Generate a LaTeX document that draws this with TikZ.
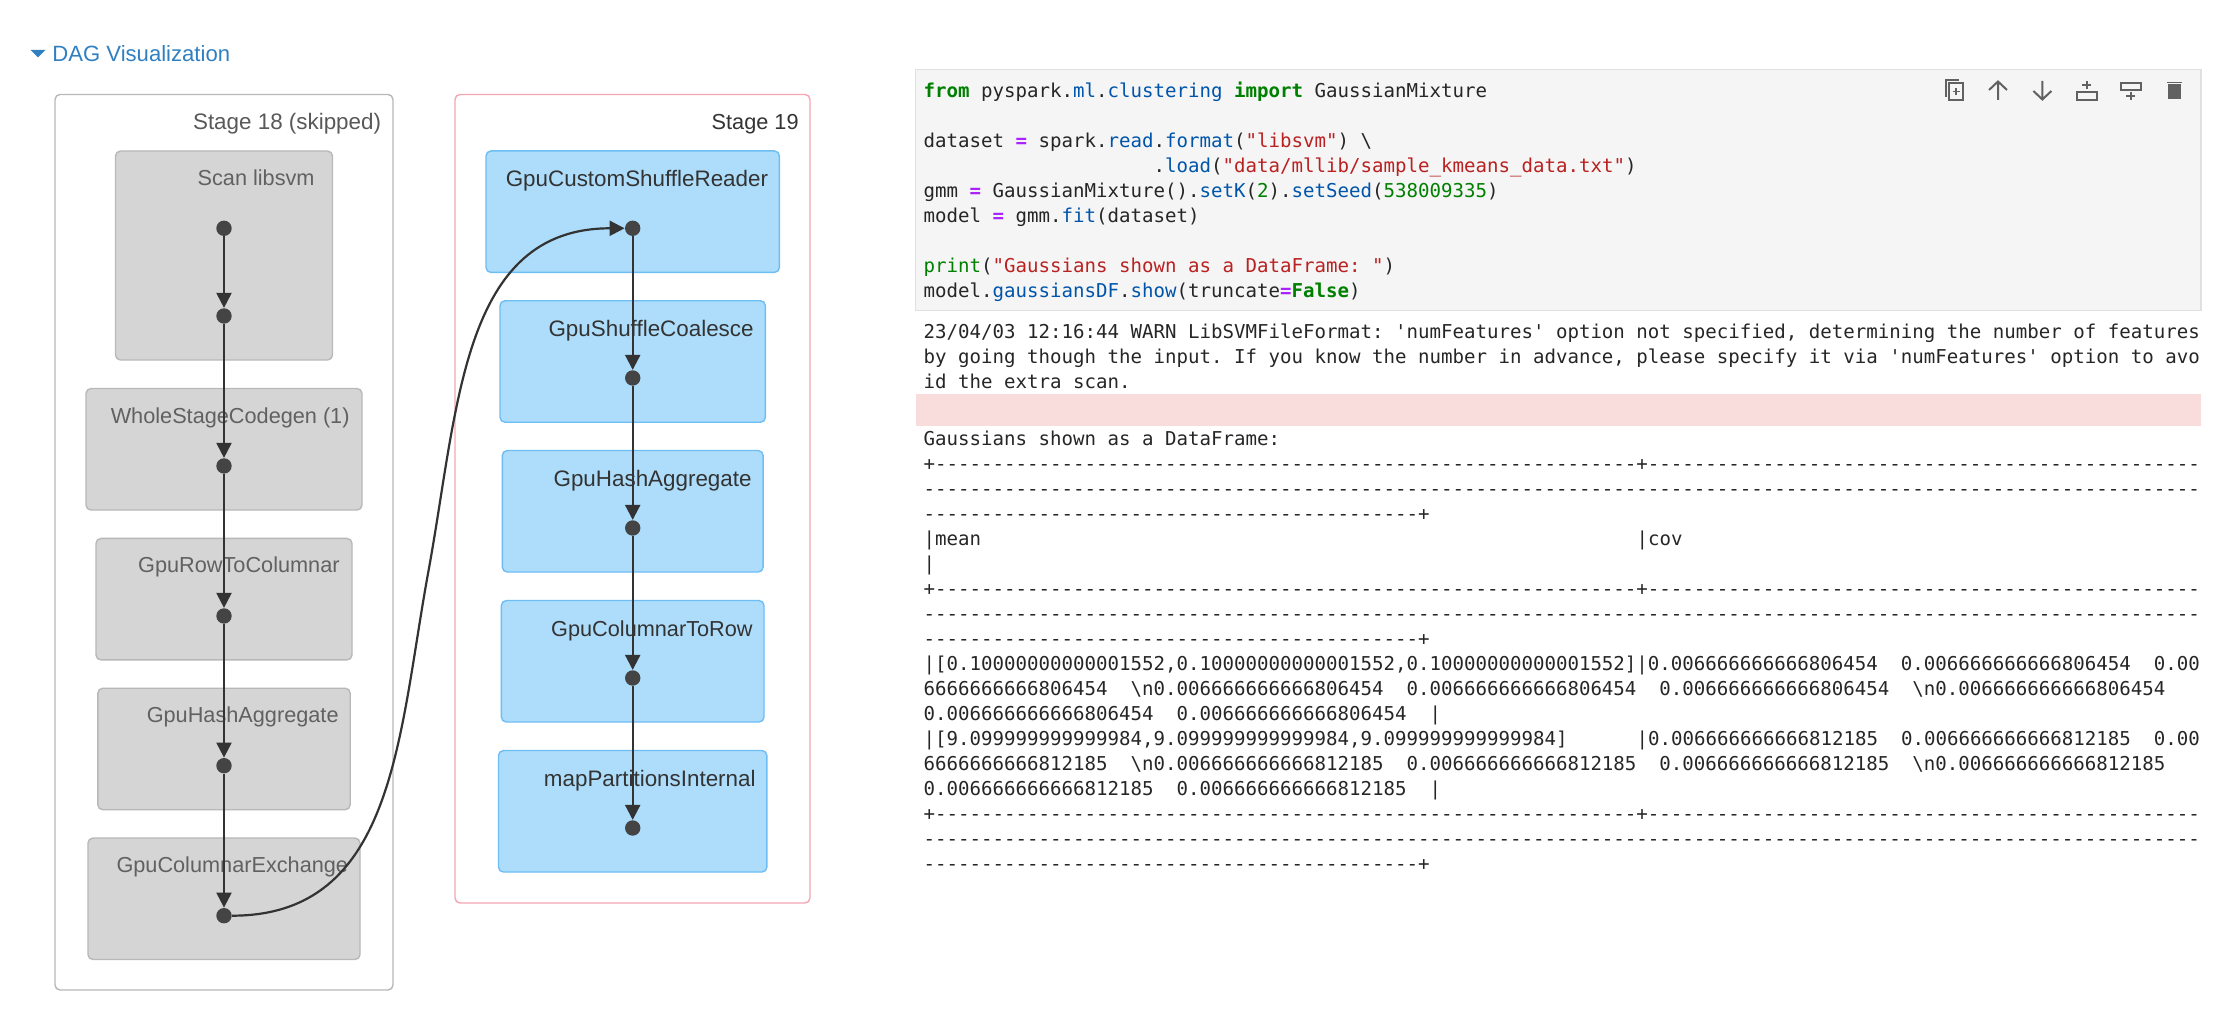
\documentclass[tikz,border=0pt]{standalone}
\usepackage{fontspec}
\setmainfont{Liberation Sans}
\setmonofont{DejaVu Sans Mono}
\usetikzlibrary{arrows.meta}

\definecolor{linkblue}{HTML}{2F7FC1}
\definecolor{skipfill}{HTML}{D5D5D5}
\definecolor{skipline}{HTML}{B8B8B8}
\definecolor{opfill}{HTML}{ADDDFB}
\definecolor{opline}{HTML}{6DBEF5}
\definecolor{stagepink}{HTML}{F5A5B3}
\definecolor{dotgray}{HTML}{444444}
\definecolor{edgegray}{HTML}{333333}
\definecolor{cellfill}{HTML}{F5F5F5}
\definecolor{cellline}{HTML}{E0E0E0}
\definecolor{errfill}{HTML}{F9DDDD}
\definecolor{icongray}{HTML}{616161}
\definecolor{kwgreen}{HTML}{008000}
\definecolor{propblue}{HTML}{0055AA}
\definecolor{strred}{HTML}{BA2121}
\definecolor{oppurple}{HTML}{AA22FF}

\newcommand{\kw}[1]{\textcolor{kwgreen}{\bfseries #1}}
\newcommand{\bi}[1]{\textcolor{kwgreen}{#1}}
\newcommand{\pr}[1]{\textcolor{propblue}{#1}}
\newcommand{\st}[1]{\textcolor{strred}{#1}}
\newcommand{\eqs}{\textcolor{oppurple}{\bfseries =}}
\newcommand{\dashes}[1]{\foreach \i in {1,...,#1}{-}}
\newcommand{\blanks}[1]{\foreach \i in {1,...,#1}{~}}
\newcommand{\nA}{0.006666666666806454}
\newcommand{\nB}{0.006666666666812185}
\newcommand{\bs}{\textbackslash}

\tikzset{
  stagebox/.style={rectangle, rounded corners=2.5pt, line width=.7pt, inner sep=0pt, fill=white},
  oplabel/.style={anchor=base east, inner sep=0pt, font=\fontsize{11.2}{13}\selectfont},
  narrowlabel/.style={font=\fontsize{10.85}{13}\selectfont},
  codeline/.style={anchor=base west, inner sep=0pt, font=\ttfamily\fontsize{9.55}{12.5}\selectfont, text=black!85},
  iconline/.style={draw=icongray, line width=1pt}
}

\begin{document}
\begin{tikzpicture}[x=.5pt, y=-.5pt]
  \useasboundingbox (0,0) rectangle (2240,1020);

  % header
  \fill[linkblue] (30.7,50) -- (45.3,50) -- (38,57.3) -- cycle;
  \node[anchor=base west, inner sep=0pt, text=linkblue, font=\fontsize{11.05}{13}\selectfont] (title) at (52,61.5) {DAG Visualization};

  % stages
  \node[stagebox, draw=skipline, minimum width=169pt, minimum height=447.75pt] (stage18) at (224,542.25) {};
  \node[stagebox, draw=stagepink, minimum width=177.5pt, minimum height=404.25pt] (stage19) at (632.5,498.75) {};
  \node[oplabel, text=black!65] (stage18label) at (381.5,130) {Stage 18 (skipped)};
  \node[oplabel, narrowlabel, text=black!80] (stage19label) at (799,130) {Stage 19};

  \begin{scope}[every node/.style={rectangle, rounded corners=2.5pt, draw=skipline, fill=skipfill, line width=.7pt, inner sep=0pt, minimum height=60.75pt}]
    \node[minimum width=108.5pt, minimum height=104.5pt] (box1) at (224,255.5) {};
    \node[minimum width=138pt] (box2) at (224,449.3) {};
    \node[minimum width=128pt] (box3) at (224,599.2) {};
    \node[minimum width=126.2pt] (box4) at (224,749) {};
    \node[minimum width=136pt] (box5) at (224,898.8) {};
  \end{scope}

  \begin{scope}[every node/.style={rectangle, rounded corners=2.5pt, draw=opline, fill=opfill, line width=.7pt, inner sep=0pt, minimum height=60.75pt}]
    \node[minimum width=146.7pt] (box6) at (632.7,211.7) {};
    \node[minimum width=132.7pt] (box7) at (632.7,361.5) {};
    \node[minimum width=130.4pt] (box8) at (632.7,511.3) {};
    \node[minimum width=131.3pt] (box9) at (632.7,661.3) {};
    \node[minimum width=134.2pt] (box10) at (632.7,811.3) {};
  \end{scope}

  \begin{scope}[every node/.style={oplabel, text=black!62}]
    \node[narrowlabel] (label1) at (315,186) {Scan libsvm};
    \node[narrowlabel] (label2) at (350,424) {WholeStageCodegen (1)};
    \node[narrowlabel] (label3) at (340,573) {GpuRowToColumnar};
    \node[narrowlabel] (label4) at (339,723) {GpuHashAggregate};
    \node[narrowlabel] (label5) at (348.5,873) {GpuColumnarExchange};
  \end{scope}

  \begin{scope}[every node/.style={oplabel, text=black!80}]
    \node (label6) at (768.5,186.7) {GpuCustomShuffleReader};
    \node (label7) at (754,336.7) {GpuShuffleCoalesce};
    \node (label8) at (752,486.7) {GpuHashAggregate};
    \node[narrowlabel] (label9) at (753,636.7) {GpuColumnarToRow};
    \node (label10) at (756,786.7) {mapPartitionsInternal};
  \end{scope}

  % dots
  \begin{scope}[every node/.style={circle, fill=dotgray, inner sep=0pt, minimum size=7.7pt}]
    \node (1) at (224,228.3) {};
    \node (2) at (224,316) {};
    \node (3) at (224,466) {};
    \node (4) at (224,616) {};
    \node (5) at (224,765.7) {};
    \node (6) at (224,915.7) {};
    \node (7) at (632.7,228.3) {};
    \node (8) at (632.7,378) {};
    \node (9) at (632.7,528) {};
    \node (10) at (632.7,678) {};
    \node (11) at (632.7,828) {};
  \end{scope}

  \begin{scope}[every edge/.style={draw=edgegray, line width=1.1pt, -{Triangle[length=7.5pt, width=7.5pt]}}]
    \path (1) edge (2);
    \path (2) edge (3);
    \path (3) edge (4);
    \path (4) edge (5);
    \path (5) edge (6);
    \path (7) edge (8);
    \path (8) edge (9);
    \path (9) edge (10);
    \path (10) edge (11);
  \end{scope}
  \coordinate (bendmid) at (428.3,572);
  \draw[draw=edgegray, line width=1.1pt, -{Triangle[length=7.5pt, width=7.5pt]}] (6) .. controls (395,915.7) and (398,737) .. (bendmid) .. controls (458.6,407) and (461.7,228.3) .. (7);

  % notebook cell
  \node[rectangle, draw=cellline, fill=cellfill, line width=.7pt, inner sep=0pt, minimum width=642.6pt, minimum height=120.7pt] (cell) at (1558.2,190) {};
  \node[rectangle, fill=errfill, inner sep=0pt, minimum width=642.6pt, minimum height=16pt] (errstrip) at (1558.2,410) {};

  % toolbar
  \begin{scope}[iconline]
    \draw (1949,83) rectangle (1963,100);
    \draw (1946,97) -- (1946,80) -- (1959,80);
    \draw[line width=.8pt] (1956,88) -- (1956,95) (1952.5,91.5) -- (1959.5,91.5);
    \draw (1998,100) -- (1998,82) (1989,90) -- (1998,81.5) -- (2007,90);
    \draw (2042.4,81) -- (2042.4,99) (2033.4,91) -- (2042.4,99.5) -- (2051.4,91);
    \draw (2076.5,92.3) rectangle (2096.5,100);
    \draw (2086.5,81.5) -- (2086.5,89.5) (2082,85.5) -- (2091,85.5);
    \draw (2120.6,82.7) rectangle (2140.6,90);
    \draw (2130.6,92.5) -- (2130.6,100.5) (2126,96) -- (2135,96);
  \end{scope}
  \fill[icongray] (2168.2,84.5) rectangle (2181.2,99);
  \fill[icongray] (2167.2,81.8) rectangle (2182.2,83.5);

  % code
  \begin{scope}[every node/.style={codeline}]
    \node (code1) at (923.2,98) {\kw{from} pyspark.\pr{ml}.\pr{clustering} \kw{import} GaussianMixture};
    \node (code3) at (923.2,148) {dataset \eqs{} spark.\pr{read}.\pr{format}(\st{"libsvm"}) \bs};
    \node (code4) at (923.2,173) {\blanks{20}.\pr{load}(\st{"data/mllib/sample\_kmeans\_data.txt"})};
    \node (code5) at (923.2,198) {gmm \eqs{} GaussianMixture().\pr{setK}(\bi{2}).\pr{setSeed}(\bi{538009335})};
    \node (code6) at (923.2,223) {model \eqs{} gmm.\pr{fit}(dataset)};
    \node (code8) at (923.2,273) {\bi{print}(\st{"Gaussians shown as a DataFrame: "})};
    \node (code9) at (923.2,298) {model.\pr{gaussiansDF}.\pr{show}(truncate\eqs\kw{False})};
  \end{scope}

  % output
  \begin{scope}[every node/.style={codeline}]
    \node (out1) at (923.2,339) {23/04/03 12:16:44 WARN LibSVMFileFormat: 'numFeatures' option not specified, determining the number of features};
    \node (out2) at (923.2,364) {by going though the input. If you know the number in advance, please specify it via 'numFeatures' option to avo};
    \node (out3) at (923.2,389) {id the extra scan.};
    \node (out4) at (923.2,446) {Gaussians shown as a DataFrame:};
    \node (out5) at (923.2,471) {+\dashes{61}+\dashes{48}};
    \node (out6) at (923.2,496) {\dashes{111}};
    \node (out7) at (923.2,521) {\dashes{43}+};
    \node (out8) at (923.2,546) {|mean\blanks{57}|cov};
    \node (out9) at (923.2,571) {|};
    \node (out10) at (923.2,596) {+\dashes{61}+\dashes{48}};
    \node (out11) at (923.2,621) {\dashes{111}};
    \node (out12) at (923.2,646) {\dashes{43}+};
    \node (out13) at (923.2,671) {|[0.10000000000001552,0.10000000000001552,0.10000000000001552]|\nA{}~~\nA{}~~0.00};
    \node (out14) at (923.2,696) {6666666666806454~~\bs{}n\nA{}~~\nA{}~~\nA{}~~\bs{}n\nA};
    \node (out15) at (923.2,721) {\nA{}~~\nA{}~~|};
    \node (out16) at (923.2,746) {|[9.099999999999984,9.099999999999984,9.099999999999984]\blanks{6}|\nB{}~~\nB{}~~0.00};
    \node (out17) at (923.2,771) {6666666666812185~~\bs{}n\nB{}~~\nB{}~~\nB{}~~\bs{}n\nB};
    \node (out18) at (923.2,796) {\nB{}~~\nB{}~~|};
    \node (out19) at (923.2,821) {+\dashes{61}+\dashes{48}};
    \node (out20) at (923.2,846) {\dashes{111}};
    \node (out21) at (923.2,871) {\dashes{43}+};
  \end{scope}
\end{tikzpicture}
\end{document}
